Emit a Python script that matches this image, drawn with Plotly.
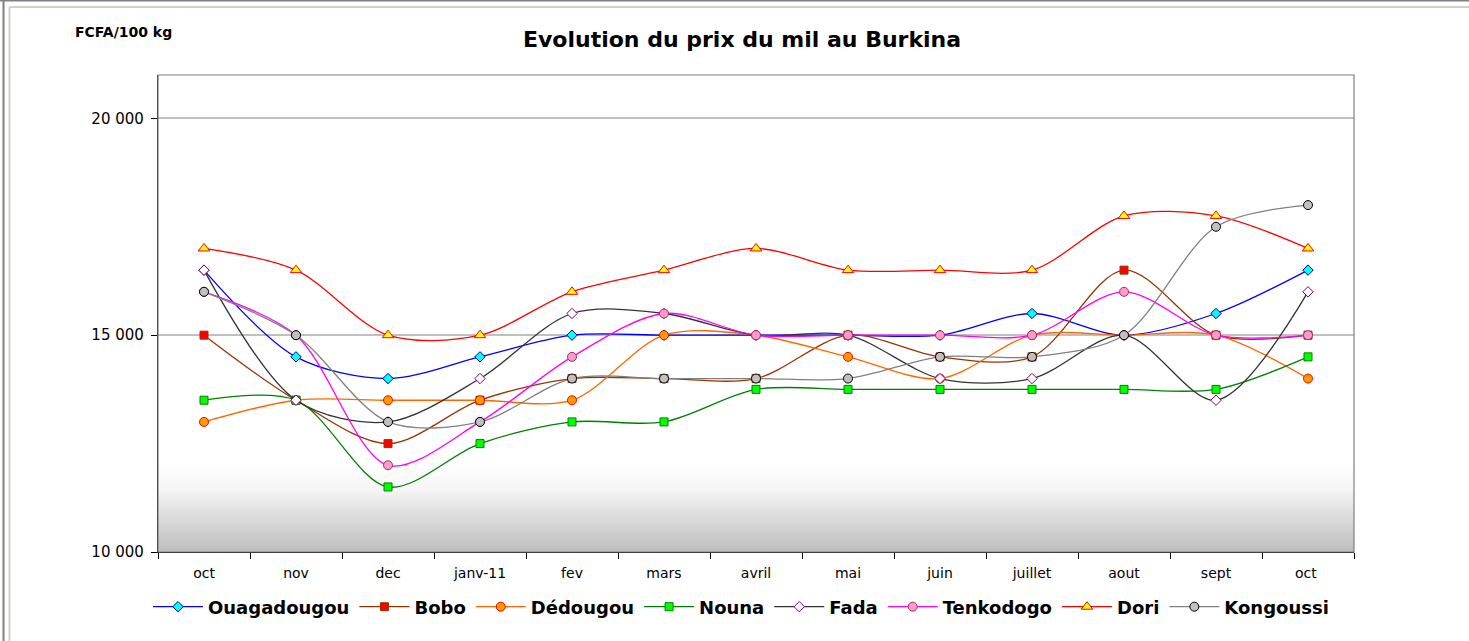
import plotly.graph_objects as go

months = ["oct", "nov", "dec", "janv-11", "fev", "mars", "avril", "mai",
          "juin", "juillet", "aout", "sept", "oct "]

ouagadougou = [16500, 14500, 14000, 14500, 15000, 15000, 15000, 15000, 15000, 15500, 15000, 15500, 16500]
bobo        = [15000, 13500, 12500, 13500, 14000, 14000, 14000, 15000, 14500, 14500, 16500, 15000, 15000]
dedougou    = [13000, 13500, 13500, 13500, 13500, 15000, 15000, 14500, 14000, 15000, 15000, 15000, 14000]
nouna       = [13500, 13500, 11500, 12500, 13000, 13000, 13750, 13750, 13750, 13750, 13750, 13750, 14500]
fada        = [16500, 13500, 13000, 14000, 15500, 15500, 15000, 15000, 14000, 14000, 15000, 13500, 16000]
tenkodogo   = [16000, 15000, 12000, 13000, 14500, 15500, 15000, 15000, 15000, 15000, 16000, 15000, 15000]
dori        = [17000, 16500, 15000, 15000, 16000, 16500, 17000, 16500, 16500, 16500, 17750, 17750, 17000]
kongoussi   = [16000, 15000, 13000, 13000, 14000, 14000, 14000, 14000, 14500, 14500, 15000, 17500, 18000]

y_tickvals = [10000, 15000, 20000]
y_ticktext = ["10 000", "15 000", "20 000"]

series = [
    ("Ouagadougou", ouagadougou, "#0000FF", "diamond", 8, "#00FFFF", "#000080"),
    ("Bobo", bobo, "#993300", "square", 8, "#FF0000", "#993300"),
    ("Dédougou", dedougou, "#FF6600", "circle", 9, "#FF9900", "#FF0000"),
    ("Nouna", nouna, "#008000", "square", 8, "#00FF00", "#008000"),
    ("Fada", fada, "#333333", "diamond", 8, "#FFFFFF", "#800080"),
    ("Tenkodogo", tenkodogo, "#FF00FF", "circle", 9, "#FF99CC", "#993366"),
    ("Dori", dori, "#FF0000", "triangle-up", 10, "#FFFF00", "#FF0000"),
    ("Kongoussi", kongoussi, "#808080", "circle", 9, "#C0C0C0", "#000000"),
]

FONT = "Liberation Sans, Arial, sans-serif"
WFONT = "DejaVu Sans, Liberation Sans, sans-serif"
W, H = 1469, 641
L, R, T, B = 158, 1354, 75, 552

fig = go.Figure()
for name, vals, lc, sym, sz, fc, bc in series:
    fig.add_trace(go.Scatter(
        x=months, y=vals, name=name, mode="lines+markers",
        line=dict(color=lc, width=1.3, shape="spline", smoothing=0.9),
        marker=dict(symbol=sym, size=sz, color=fc, line=dict(color=bc, width=1)),
    ))

def px(xp):
    return (xp - L) / (R - L)
def py(yp):
    return (B - yp) / (B - T)

svg = ("data:image/svg+xml;utf8,<svg xmlns='http://www.w3.org/2000/svg' width='100' height='100' "
       "preserveAspectRatio='none' viewBox='0 0 100 100'><defs><linearGradient id='g' x1='0' y1='0' x2='0' y2='1'>"
       "<stop offset='0' stop-color='%23ffffff'/><stop offset='0.3' stop-color='%23f6f6f6'/>"
       "<stop offset='1' stop-color='%23bdbdbd'/></linearGradient></defs>"
       "<rect width='100' height='100' fill='url(%23g)'/></svg>")
g_top = 12100
images = [dict(source=svg, xref="x domain", yref="y domain", x=0, y=(g_top - 10000) / 11000,
               sizex=1, sizey=(g_top - 10000) / 11000, xanchor="left", yanchor="top",
               sizing="stretch", layer="below")]

shapes = []
shapes.append(dict(type="rect", xref="x domain", yref="y domain", x0=0, x1=1, y0=0, y1=1,
                   line=dict(color="#808080", width=1.2), fillcolor="rgba(0,0,0,0)", layer="above"))
shapes.append(dict(type="line", xref="paper", yref="paper", x0=px(3.5), x1=px(3.5), y0=py(0), y1=py(641),
                   line=dict(color="#808080", width=2)))
shapes.append(dict(type="line", xref="paper", yref="paper", x0=px(0), x1=px(1469), y0=py(0.5), y1=py(0.5),
                   line=dict(color="#808080", width=2)))
shapes.append(dict(type="line", xref="paper", yref="paper", x0=px(9.5), x1=px(9.5), y0=py(7), y1=py(641),
                   line=dict(color="#D4D0C8", width=2)))
shapes.append(dict(type="line", xref="paper", yref="paper", x0=px(9.5), x1=px(1469), y0=py(7), y1=py(7),
                   line=dict(color="#D4D0C8", width=2)))

fig.update_layout(
    width=W, height=H,
    margin=dict(l=L, r=W - R, t=T, b=H - B, autoexpand=False),
    paper_bgcolor="white", plot_bgcolor="white",
    font=dict(family=FONT, size=13, color="black"),
    shapes=shapes, images=images,
    showlegend=True,
    legend=dict(orientation="h", x=px(741), xanchor="center", y=py(607), yanchor="middle",
                font=dict(family=WFONT, size=18, color="black", weight="bold"),
                itemwidth=50, tracegroupgap=0, bgcolor="rgba(0,0,0,0)"),
    annotations=[
        dict(text="<b>Evolution du prix du mil au Burkina</b>", xref="paper", yref="paper",
             x=px(742), y=py(39), xanchor="center", yanchor="middle", showarrow=False,
             font=dict(family=WFONT, size=22, color="black")),
        dict(text="<b>FCFA/100 kg</b>", xref="paper", yref="paper",
             x=px(73), y=py(32), xanchor="left", yanchor="middle", showarrow=False,
             font=dict(family=WFONT, size=14, color="black")),
    ],
)
fig.update_xaxes(
    type="category", range=[-0.5, 12.5], showgrid=False, zeroline=False,
    showline=True, linecolor="black", linewidth=1.3, mirror=False,
    ticks="outside", tickson="boundaries", ticklen=6, tickcolor="black", tickwidth=1,
    ticklabelstandoff=8,
    tickfont=dict(family=WFONT, size=14, color="black"),
)
fig.update_yaxes(
    range=[10000, 21000], tickvals=y_tickvals, ticktext=y_ticktext,
    showgrid=True, gridcolor="#C0C0C0", gridwidth=2, zeroline=False,
    showline=True, linecolor="black", linewidth=1.3, mirror=False,
    ticks="outside", ticklen=6, tickcolor="black", tickwidth=1, ticklabelstandoff=4,
    tickfont=dict(family=WFONT, size=15, color="black"),
)

fig.write_html("out.html", config={"displayModeBar": False},
               post_script="document.body.style.margin='0';")
